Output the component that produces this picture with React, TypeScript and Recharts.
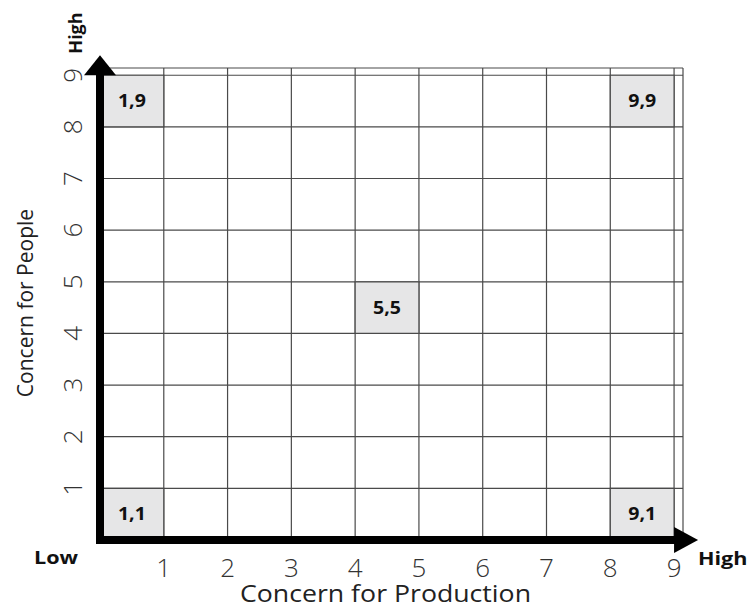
import React from "react";
import {
  ScatterChart,
  XAxis,
  YAxis,
  CartesianGrid,
  ReferenceArea,
  ReferenceLine,
  ReferenceDot,
} from "recharts";

// Managerial grid: concern for production (x) vs concern for people (y)
const xTicks = [1, 2, 3, 4, 5, 6, 7, 8, 9];
const yTicks = [1, 2, 3, 4, 5, 6, 7, 8, 9];
const gridMax = 9;
const domainMax = 9.14;

// highlighted cells, given by their upper-right corner (cell spans x-1..x, y-1..y)
const cellX = [1, 9, 5, 1, 9];
const cellY = [9, 9, 5, 1, 1];
const cellLabels = ["1,9", "9,9", "5,5", "1,1", "9,1"];

const xTitle = "Concern for Production";
const yTitle = "Concern for People";
const lowLabel = "Low";
const highLabel = "High";

const FONT = "'Open Sans', 'Noto Sans', sans-serif";
// the source picture is a bit wider than tall, so horizontal text is stretched
const SX = 1.2;

function XTick(props: any) {
  const { x, y, payload } = props;
  return (
    <text x={x} y={y + 37} textAnchor="middle" fontFamily={FONT} fontSize={26} fontWeight={300} fill="#333">
      {payload.value}
    </text>
  );
}

function YTick(props: any) {
  const { x, y, payload } = props;
  const bx = x - 18;
  return (
    <text
      x={bx}
      y={y}
      transform={`rotate(-90, ${bx}, ${y})`}
      textAnchor="middle"
      fontFamily={FONT}
      fontSize={26}
      fontWeight={300}
      fill="#333"
    >
      {payload.value}
    </text>
  );
}

function Stretched({ x, y, sx = SX, children, ...rest }: any) {
  return (
    <text x={0} y={0} transform={`translate(${x},${y}) scale(${sx},1)`} {...rest}>
      {children}
    </text>
  );
}

function XTitle(props: any) {
  const vb = props.viewBox;
  return (
    <g fontFamily={FONT}>
      <Stretched x={vb.x + vb.width / 2 - 6} y={vb.y + 62} sx={1.16} textAnchor="middle" fontSize={23} fill="#222">
        {xTitle}
      </Stretched>
      <Stretched x={vb.x - 44} y={vb.y + 24} textAnchor="middle" fontSize={18} fontWeight={700} fill="#111">
        {lowLabel}
      </Stretched>
      <Stretched x={vb.x + vb.width + 15} y={vb.y + 25} textAnchor="start" fontSize={18} fontWeight={700} fill="#111">
        {highLabel}
      </Stretched>
    </g>
  );
}

function YTitle(props: any) {
  const vb = props.viewBox;
  const tx = vb.x - 7;
  const ty = vb.y + vb.height / 2 - 1;
  const hx = vb.x + vb.width - 18;
  const hy = 33;
  return (
    <g fontFamily={FONT}>
      <text x={tx} y={ty} transform={`rotate(-90, ${tx}, ${ty})`} textAnchor="middle" fontSize={21} fill="#222">
        {yTitle}
      </text>
      <text x={hx} y={hy} transform={`rotate(-90, ${hx}, ${hy})`} textAnchor="middle" fontSize={18} fontWeight={700} fill="#111">
        {highLabel}
      </text>
    </g>
  );
}

function CellLabel(props: any) {
  const vb = props.viewBox;
  return (
    <Stretched
      x={vb.x + vb.width / 2}
      y={vb.y + vb.height / 2 + 6}
      sx={1.15}
      textAnchor="middle"
      fontFamily={FONT}
      fontSize={17}
      fontWeight={700}
      fill="#111"
    >
      {props.value}
    </Stretched>
  );
}

function ArrowRight(props: any) {
  const { cx, cy } = props;
  return <path d={`M${cx},${cy - 13} L${cx + 24},${cy} L${cx},${cy + 13} Z`} fill="#000" />;
}

function ArrowUp(props: any) {
  const { cx, cy } = props;
  return <path d={`M${cx - 16},${cy} L${cx},${cy - 20} L${cx + 16},${cy} Z`} fill="#000" />;
}

export default function App() {
  return (
    <div style={{ width: 750, height: 605 }}>
      <style>{"body{margin:0}"}</style>
      <ScatterChart width={750} height={605} margin={{ top: 68, right: 67, left: 40, bottom: 0 }}>
        <XAxis
          type="number"
          dataKey="x"
          domain={[0, domainMax]}
          ticks={xTicks}
          allowDataOverflow
          axisLine={false}
          tickLine={false}
          tickSize={0}
          tickMargin={0}
          height={65}
          tick={<XTick />}
          label={{ content: XTitle }}
        />
        <YAxis
          type="number"
          dataKey="y"
          domain={[0, domainMax]}
          ticks={yTicks}
          allowDataOverflow
          axisLine={false}
          tickLine={false}
          tickSize={0}
          tickMargin={0}
          width={60}
          tick={<YTick />}
          label={{ content: YTitle }}
        />
        <CartesianGrid stroke="#4a4a4a" strokeWidth={1.2} />
        {cellX.map((cx, i) => (
          <ReferenceArea
            key={cellLabels[i]}
            x1={cx - 1}
            x2={cx}
            y1={cellY[i] - 1}
            y2={cellY[i]}
            fill="#e6e6e7"
            fillOpacity={1}
            stroke="#4a4a4a"
            strokeWidth={1.2}
            label={{ value: cellLabels[i], content: CellLabel }}
          />
        ))}
        <ReferenceLine
          segment={[{ x: 0, y: 0 }, { x: gridMax, y: 0 }]}
          stroke="#000"
          strokeWidth={8}
          strokeLinecap="square"
        />
        <ReferenceLine
          segment={[{ x: 0, y: 0 }, { x: 0, y: gridMax }]}
          stroke="#000"
          strokeWidth={8}
          strokeLinecap="square"
        />
        <ReferenceDot x={gridMax} y={0} shape={<ArrowRight />} />
        <ReferenceDot x={0} y={gridMax} shape={<ArrowUp />} />
      </ScatterChart>
    </div>
  );
}
